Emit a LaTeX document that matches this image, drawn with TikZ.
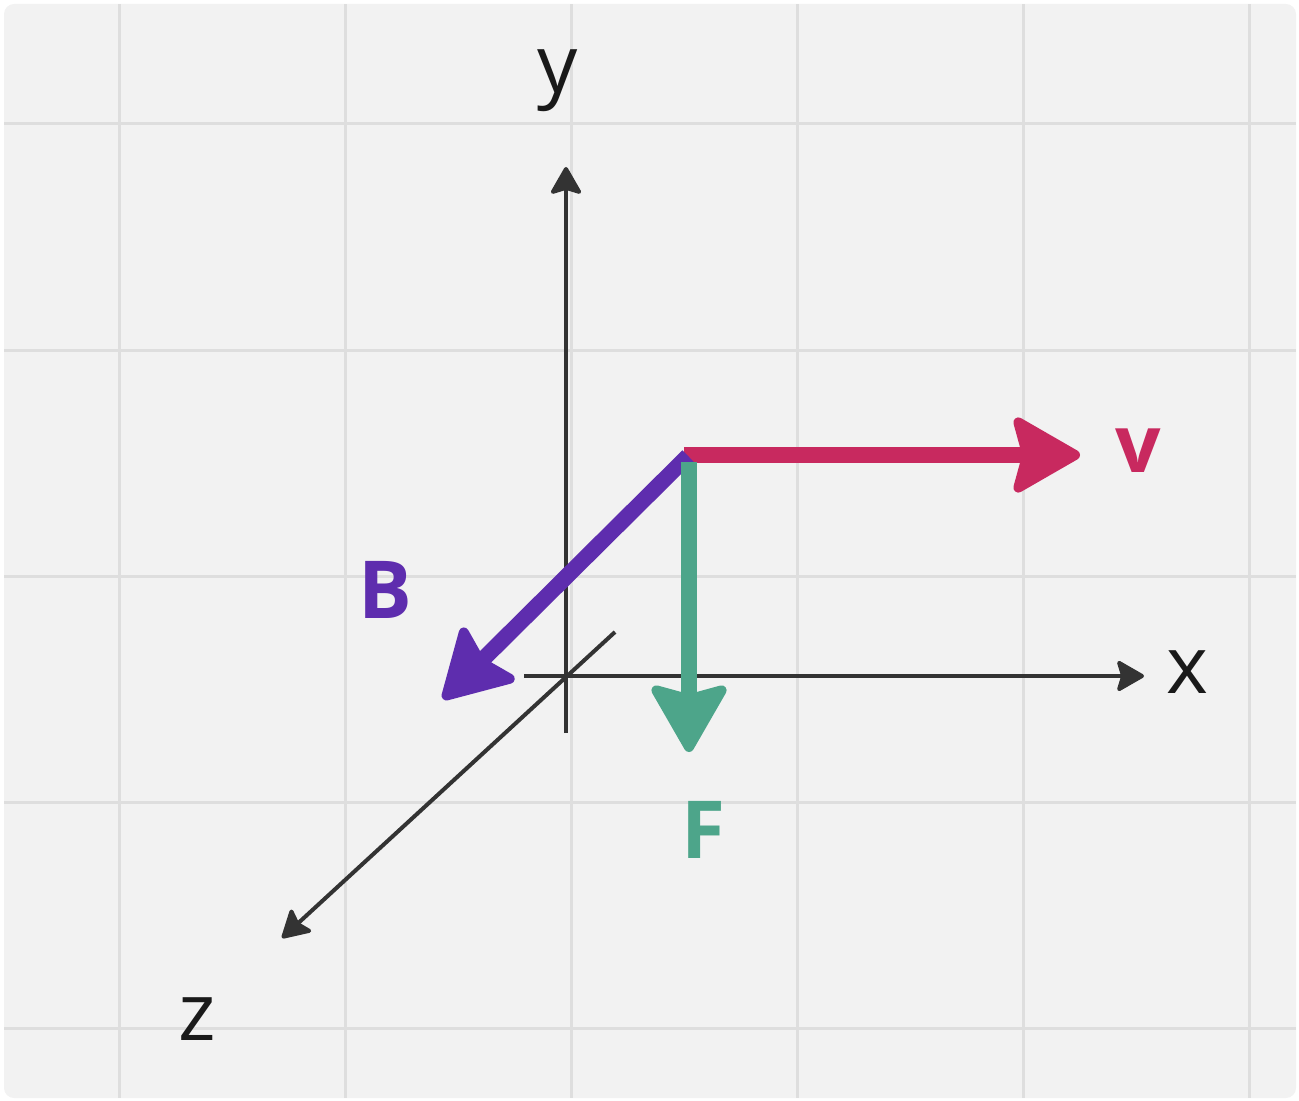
\documentclass[tikz,border=0pt]{standalone}
\usepackage{fontspec}
\setmainfont{Open Sans}
\usetikzlibrary{arrows.meta}
\definecolor{bgc}{HTML}{F2F2F2}
\definecolor{gridc}{HTML}{DEDEDE}
\definecolor{axisc}{HTML}{333333}
\definecolor{vred}{HTML}{C8295F}
\definecolor{bpurple}{HTML}{5E2DAE}
\definecolor{fgreen}{HTML}{4DA58A}
\definecolor{txt}{HTML}{1A1A1A}
\tikzset{
  gridline/.style={draw=gridc, line width=1.5pt},
  axisline/.style={draw=axisc, line width=2pt, -{Stealth[length=15pt, width=17pt, inset=2.5pt, round, line width=2pt]}},
  vecline/.style={line width=8pt, -{Stealth[length=37pt, width=42pt, inset=5.5pt, round, line width=5pt]}},
  axlabel/.style={text=txt, inner sep=0pt, anchor=base, font=\fontsize{40}{48}\selectfont},
  veclabel/.style={inner sep=0pt, anchor=base, font=\bfseries\fontsize{40}{48}\selectfont},
}
\begin{document}
\begin{tikzpicture}[x=0.5pt, y=-0.5pt]
\useasboundingbox (0,0) rectangle (1299,1101);
\fill[bgc, rounded corners=5pt] (4,4) rectangle (1296,1098);
% grid
\foreach \gx in {119,345,571,797,1023,1249} \draw[gridline] (\gx,4) -- (\gx,1098);
\foreach \gy in {124,350,576,802,1028} \draw[gridline] (4,\gy) -- (1296,\gy);
% axes
\coordinate (ybot) at (566,733);
\coordinate (ytop) at (566,167);
\coordinate (xl) at (524,676);
\coordinate (xr) at (1144,676);
\coordinate (zb) at (615,632);
\coordinate (zt) at (282,938);
\draw[axisline] (ybot) -- (ytop);
\draw[axisline] (xl) -- (xr);
\draw[axisline] (zb) -- (zt);
\node[axlabel] (ylab) at (558,93) {y};
\node[axlabel] (xlab) at (1187,693) {x};
\node[axlabel] (zlab) at (197,1040) {z};
% vectors
\coordinate (vs) at (684,455);
\coordinate (ve) at (1080,455);
\coordinate (bs) at (688,456);
\coordinate (be) at (443,699);
\coordinate (fs) at (689,462);
\coordinate (fe) at (689,752);
\draw[vecline, vred, line cap=butt] (vs) -- (ve);
\draw[vecline, bpurple] (bs) -- (be);
\draw[vecline, fgreen] (fs) -- (fe);
\node[veclabel, text=vred] (vlab) at (1138,472) {v};
\node[veclabel, text=bpurple] (blab) at (385,618) {B};
\node[veclabel, text=fgreen] (flab) at (703,858) {F};
\end{tikzpicture}
\end{document}
